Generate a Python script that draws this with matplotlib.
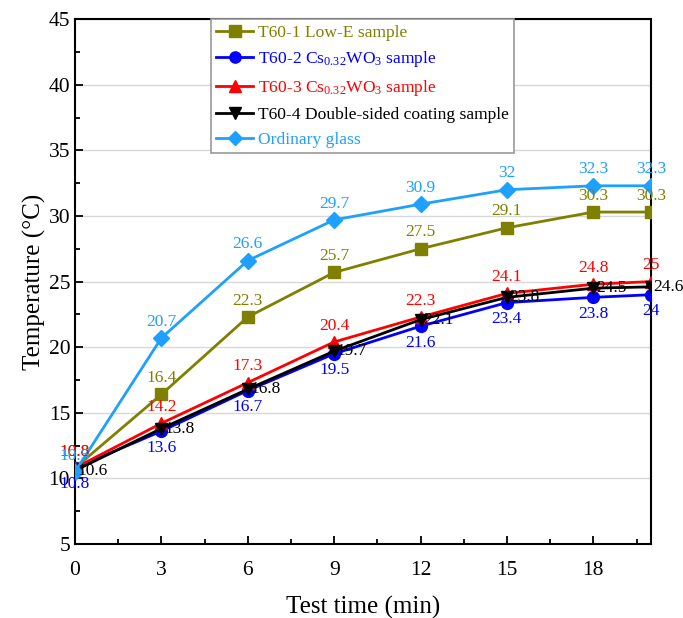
import matplotlib
matplotlib.use("Agg")
import matplotlib.pyplot as plt
from matplotlib.ticker import MultipleLocator

plt.rcParams['font.family'] = ['Liberation Serif', 'DejaVu Serif']
plt.rcParams['mathtext.fontset'] = 'custom'
plt.rcParams['mathtext.rm'] = 'Liberation Serif'
plt.rcParams['mathtext.it'] = 'Liberation Serif:italic'

time_min = [0, 3, 6, 9, 12, 15, 18, 20]
low_e = [10.8, 16.4, 22.3, 25.7, 27.5, 29.1, 30.3, 30.3]
cswo_2 = [10.8, 13.6, 16.7, 19.5, 21.6, 23.4, 23.8, 24.0]
cswo_3 = [10.8, 14.2, 17.3, 20.4, 22.3, 24.1, 24.8, 25.0]
double_sided = [10.6, 13.8, 16.8, 19.7, 22.1, 23.8, 24.5, 24.6]
ordinary = [10.5, 20.7, 26.6, 29.7, 30.9, 32.0, 32.3, 32.3]

series = [
    ("T60-1 Low-E sample", low_e, "#808000", "s", "above"),
    (r"T60-2 Cs$_{\mathregular{0.32}}$WO$_{\mathregular{3}}$ sample", cswo_2, "#0000FF", "o", "below"),
    (r"T60-3 Cs$_{\mathregular{0.32}}$WO$_{\mathregular{3}}$ sample", cswo_3, "#FF0000", "^", "above"),
    ("T60-4 Double-sided coating sample", double_sided, "#000000", "v", "right"),
    ("Ordinary glass", ordinary, "#1EA0FF", "D", "above"),
]

fig = plt.figure(figsize=(6.83, 6.18), dpi=100)
ax = fig.add_axes([0.1098, 0.1197, 0.8432, 0.8493])

handles = []
for name, vals, color, marker, pos in series:
    h, = ax.plot(time_min, vals, color=color, marker=marker, lw=2.0,
                 markersize=8.5 if marker != "D" else 8, label=name, zorder=3)
    handles.append(h)
    for xv, yv in zip(time_min, vals):
        txt = f"{yv:g}"
        if pos == "above":
            ax.annotate(txt, (xv, yv), xytext=(0, 6), textcoords="offset points",
                        ha="center", va="bottom", color=color, fontsize=12.5, zorder=4)
        elif pos == "below":
            ax.annotate(txt, (xv, yv), xytext=(0, -6), textcoords="offset points",
                        ha="center", va="top", color=color, fontsize=12.5, zorder=4)
        else:
            ax.annotate(txt, (xv, yv), xytext=(2, 0), textcoords="offset points",
                        ha="left", va="center", color=color, fontsize=12.5, zorder=4)

ax.set_xlim(0, 20)
ax.set_ylim(5, 45)
ax.set_xticks([0, 3, 6, 9, 12, 15, 18])
ax.xaxis.set_minor_locator(MultipleLocator(1.5))
ax.yaxis.set_major_locator(MultipleLocator(5))
ax.yaxis.set_minor_locator(MultipleLocator(2.5))
ax.tick_params(which="both", direction="in", top=False, right=False, labelsize=15.5, width=1.3)
ax.tick_params(which="major", length=6)
ax.tick_params(which="minor", length=3.5)
ax.tick_params(axis="x", pad=12)
ax.grid(axis="y", which="major", color="#d8d8d8", lw=1.0, zorder=0)
for sp in ax.spines.values():
    sp.set_linewidth(1.5)

ax.set_xlabel("Test time (min)", fontsize=18, labelpad=12)
ax.set_ylabel("Temperature (°C)", fontsize=18, labelpad=2)

leg = ax.legend(handles=handles, loc="upper left", bbox_to_anchor=(0.236, 1.0),
                fontsize=12.6, frameon=True, fancybox=False, edgecolor="#999999",
                framealpha=1, handlelength=2.1, handletextpad=0.3, borderpad=0.3,
                labelspacing=0.5, borderaxespad=0.0, markerscale=0.95)
leg.get_frame().set_linewidth(1.2)
for text, (_, _, color, _, _) in zip(leg.get_texts(), series):
    text.set_color(color)

fig.savefig("out.png", dpi=100)
